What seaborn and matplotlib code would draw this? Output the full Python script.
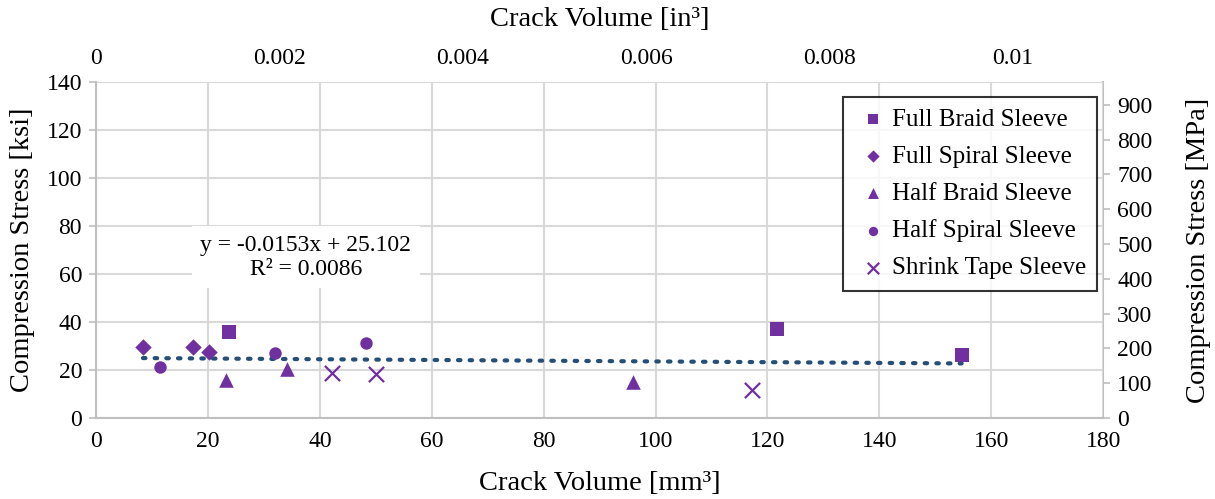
import numpy as np
import pandas as pd
import matplotlib
matplotlib.use("Agg")
import matplotlib.pyplot as plt
import seaborn as sns

# Crack volume [mm^3] and compression stress [ksi] per sleeve type
full_braid_vol = [23.8, 121.7, 154.7]
full_braid_stress = [35.7, 37.1, 26.2]
full_spiral_vol = [8.4, 17.4, 20.2]
full_spiral_stress = [29.7, 29.7, 27.5]
half_braid_vol = [23.2, 34.1, 95.9]
half_braid_stress = [15.8, 20.3, 15.0]
half_spiral_vol = [11.4, 32.0, 48.3]
half_spiral_stress = [21.1, 27.2, 31.1]
shrink_tape_vol = [42.2, 50.1, 117.3]
shrink_tape_stress = [18.6, 18.2, 11.5]

series_names = ["Full Braid Sleeve", "Full Spiral Sleeve", "Half Braid Sleeve",
                "Half Spiral Sleeve", "Shrink Tape Sleeve"]

# Linear trend over all samples
trend_slope = -0.0153
trend_intercept = 25.102
trend_r2 = 0.0086

MM3_PER_IN3 = 16387.064
MPA_PER_KSI = 6.894757

sns.set_theme(style="white")
plt.rcParams["font.family"] = ["Liberation Serif", "DejaVu Serif"]
plt.rcParams["text.color"] = "black"
plt.rcParams["axes.labelcolor"] = "black"
plt.rcParams["xtick.color"] = "black"
plt.rcParams["ytick.color"] = "black"

purple = "#7030A0"
grid_grey = "#D9D9D9"
spine_grey = "#BFBFBF"
TICK_FS = 17
LABEL_FS = 20.5

frames = []
for name, v, s in zip(series_names,
                      [full_braid_vol, full_spiral_vol, half_braid_vol, half_spiral_vol, shrink_tape_vol],
                      [full_braid_stress, full_spiral_stress, half_braid_stress, half_spiral_stress, shrink_tape_stress]):
    frames.append(pd.DataFrame({"vol": v, "stress": s, "series": name}))
df = pd.concat(frames, ignore_index=True)

fig = plt.figure(figsize=(12.15, 4.99), dpi=100)
ax = fig.add_axes([0.079, 0.1623, 0.829, 0.6734])

marker_map = {"Full Braid Sleeve": "s", "Full Spiral Sleeve": "D",
              "Half Braid Sleeve": "^", "Half Spiral Sleeve": "o",
              "Shrink Tape Sleeve": "x"}
size_map = {"Full Braid Sleeve": 95, "Full Spiral Sleeve": 70,
            "Half Braid Sleeve": 110, "Half Spiral Sleeve": 80,
            "Shrink Tape Sleeve": 120}

for name in series_names:
    sub = df[df["series"] == name]
    if name == "Shrink Tape Sleeve":
        sns.scatterplot(data=sub, x="vol", y="stress", ax=ax, marker="x",
                        s=size_map[name], color=purple, linewidth=1.6,
                        label=name, zorder=4)
    else:
        sns.scatterplot(data=sub, x="vol", y="stress", ax=ax, marker=marker_map[name],
                        s=size_map[name], color=purple, edgecolor=purple, linewidth=0,
                        label=name, zorder=4)

# Trend line across the range of data
x_tr = np.array([df["vol"].min(), df["vol"].max()])
ax.plot(x_tr, trend_slope * x_tr + trend_intercept, linestyle=(0, (0.6, 2.2)),
        color="#264F78", linewidth=3.0, dash_capstyle="round", zorder=3)

ax.set_xlim(0, 180)
ax.set_ylim(0, 140)
ax.set_xticks(np.arange(0, 181, 20))
ax.set_yticks(np.arange(0, 141, 20))
ax.grid(True, color=grid_grey, linewidth=1.5)
ax.set_axisbelow(True)
ax.tick_params(axis="x", labelsize=TICK_FS, length=0, pad=9)
ax.tick_params(axis="y", labelsize=TICK_FS, left=True, length=5, width=1.2,
               color=spine_grey, pad=5, direction="out")
ax.set_xlabel("Crack Volume [mm³]", fontsize=LABEL_FS, labelpad=14)
ax.set_ylabel("Compression Stress [ksi]", fontsize=LABEL_FS, labelpad=8)
for side in ["left", "bottom"]:
    ax.spines[side].set_color(spine_grey)
    ax.spines[side].set_linewidth(1.5)
ax.spines["top"].set_visible(False)
ax.spines["right"].set_visible(False)

# Equation label
ax.text(37.5, 67.0, f"y = {trend_slope}x + {trend_intercept}\nR² = {trend_r2}",
        ha="center", va="center", fontsize=TICK_FS, linespacing=1.2,
        bbox=dict(facecolor="white", edgecolor="none", pad=6), zorder=5)

# Secondary axes: inches on top, MPa on the right
top = ax.secondary_xaxis("top", functions=(lambda x: x / MM3_PER_IN3, lambda x: x * MM3_PER_IN3))
top.set_xticks([0, 0.002, 0.004, 0.006, 0.008, 0.01])
top.set_xticklabels(["0", "0.002", "0.004", "0.006", "0.008", "0.01"])
top.tick_params(labelsize=TICK_FS, length=0, pad=9)
top.spines["top"].set_visible(False)
top.set_xlabel("Crack Volume [in³]", fontsize=LABEL_FS, labelpad=16)

right = ax.secondary_yaxis("right", functions=(lambda y: y * MPA_PER_KSI, lambda y: y / MPA_PER_KSI))
right.set_yticks(np.arange(0, 901, 100))
right.tick_params(labelsize=TICK_FS, length=5, width=1.2, color=spine_grey, pad=5, direction="out")
right.spines["right"].set_color(spine_grey)
right.spines["right"].set_linewidth(1.5)
right.set_ylabel("Compression Stress [MPa]", fontsize=LABEL_FS, labelpad=24)

leg = ax.legend(loc="upper right", bbox_to_anchor=(0.994, 0.955), borderaxespad=0,
                fontsize=18, frameon=True, fancybox=False, edgecolor="black",
                handletextpad=0.0, handlelength=1.5, borderpad=0.45,
                labelspacing=0.58, markerscale=0.75)
leg.get_frame().set_linewidth(1.5)
leg.set_zorder(6)

fig.savefig("out.png", dpi=100, facecolor="white")
